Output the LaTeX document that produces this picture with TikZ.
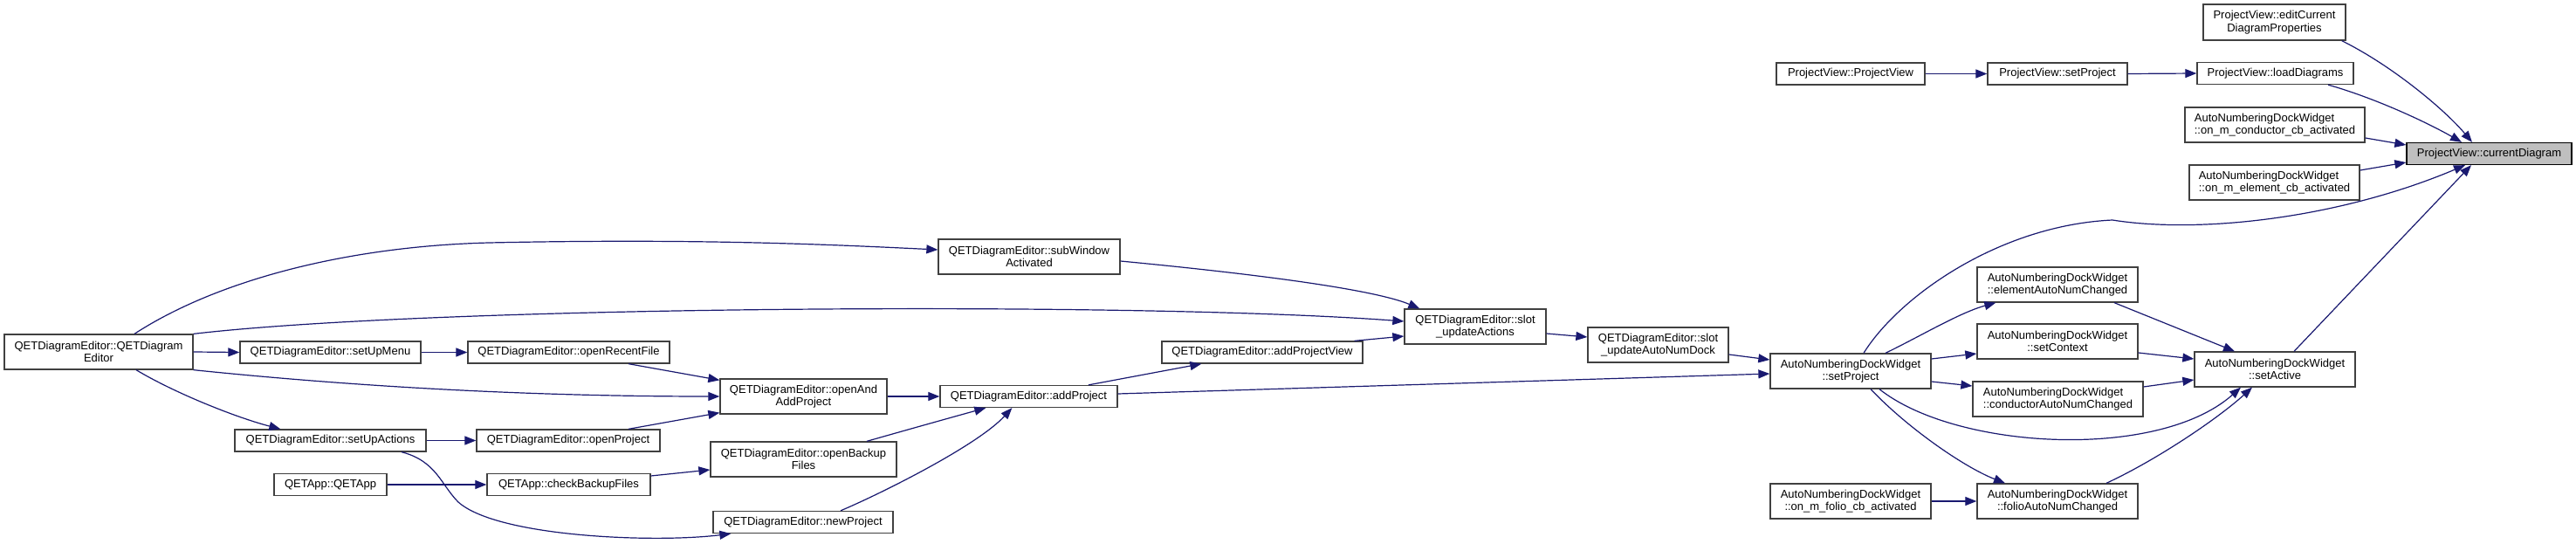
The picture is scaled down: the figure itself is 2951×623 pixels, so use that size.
\documentclass[tikz,border=0pt]{standalone}
\usepackage{fontspec}
\setmainfont{Liberation Sans}
\usetikzlibrary{arrows.meta}
\definecolor{edgeblue}{HTML}{191970}
\definecolor{nodeborder}{HTML}{404040}
\definecolor{hilite}{HTML}{BFBFBF}
\begin{document}
\begin{tikzpicture}[x=1pt,y=-1pt,
  fn/.style={draw=nodeborder, line width=1.3pt, fill=white, inner sep=0pt, align=center,
    font=\fontsize{13}{14.5}\selectfont, minimum height=25pt},
  fn2/.style={fn, minimum height=40pt},
  call/.style={draw=edgeblue, line width=1.2pt, -{Triangle[length=13pt,width=10pt]}}
]
\useasboundingbox[fill=white] (0,0) rectangle (2951,623);

% nodes
\node[fn2, minimum width=216pt] (ctor) at (113,403) {QETDiagramEditor::QETDiagram\\Editor};
\node[fn, minimum width=207pt] (sum) at (378.5,403.5) {QETDiagramEditor::setUpMenu};
\node[fn, minimum width=219pt] (sua) at (378.5,504.5) {QETDiagramEditor::setUpActions};
\node[fn, minimum width=129pt] (qapp) at (378.5,555) {QETApp::QETApp};
\node[fn, minimum width=231pt] (orf) at (651.5,403.5) {QETDiagramEditor::openRecentFile};
\node[fn, minimum width=210pt] (op) at (651,504.5) {QETDiagramEditor::openProject};
\node[fn, minimum width=187pt] (cbf) at (651.5,555) {QETApp::checkBackupFiles};
\node[fn2, minimum width=191pt] (oaa) at (920.5,454) {QETDiagramEditor::openAnd\\AddProject};
\node[fn2, minimum width=213pt] (obf) at (920.5,526) {QETDiagramEditor::openBackup\\Files};
\node[fn, minimum width=206pt] (np) at (920,598) {QETDiagramEditor::newProject};
\node[fn2, minimum width=208pt] (sw) at (1179,294) {QETDiagramEditor::subWindow\\Activated};
\node[fn, minimum width=203pt] (ap) at (1178.5,454) {QETDiagramEditor::addProject};
\node[fn, minimum width=230pt] (apv) at (1446,403.5) {QETDiagramEditor::addProjectView};
\node[fn2, minimum width=162pt] (ua) at (1690,374) {QETDiagramEditor::slot\\\_updateActions};
\node[fn2, minimum width=161pt] (uand) at (1899.5,395) {QETDiagramEditor::slot\\\_updateAutoNumDock};
\node[fn, minimum width=170pt] (pvc) at (2120,84.5) {ProjectView::ProjectView};
\node[fn2, minimum width=184pt] (sp) at (2120,425) {AutoNumberingDockWidget\\::setProject};
\node[fn2, minimum width=184pt] (omf) at (2120,574) {AutoNumberingDockWidget\\::on\_m\_folio\_cb\_activated};
\node[fn, minimum width=160pt] (pvsp) at (2357,84.5) {ProjectView::setProject};
\node[fn2, minimum width=184pt] (ean) at (2357,326) {AutoNumberingDockWidget\\::elementAutoNumChanged};
\node[fn2, minimum width=184pt] (sc) at (2357,391) {AutoNumberingDockWidget\\::setContext};
\node[fn2, minimum width=195pt, align=left] (can) at (2357.5,457) {AutoNumberingDockWidget\\::conductorAutoNumChanged};
\node[fn2, minimum width=184pt] (fan) at (2357,574) {AutoNumberingDockWidget\\::folioAutoNumChanged};
\node[fn2, minimum width=163pt, minimum height=41pt] (ecdp) at (2605.5,25.5) {ProjectView::editCurrent\\DiagramProperties};
\node[fn, minimum width=179pt] (ld) at (2606.5,84) {ProjectView::loadDiagrams};
\node[fn2, minimum width=206pt, align=left] (omc) at (2606,143) {AutoNumberingDockWidget\\::on\_m\_conductor\_cb\_activated};
\node[fn, minimum width=189pt, fill=hilite, draw=black] (cd) at (2851.5,176) {ProjectView::currentDiagram};
\node[fn2, minimum width=195pt, align=left] (ome) at (2605.5,209) {AutoNumberingDockWidget\\::on\_m\_element\_cb\_activated};
\node[fn2, minimum width=184pt] (sa) at (2606,423) {AutoNumberingDockWidget\\::setActive};

% edges into currentDiagram
\draw[call] ([xshift=-5pt]ecdp.south east) .. controls (2740,75) and (2800,125) .. ([xshift=-19.5pt]cd.north);
\draw[call] ([xshift=60.5pt]ld.south) .. controls (2720,112) and (2780,140) .. ([xshift=-31.5pt]cd.north);
\draw[call] ([yshift=-15pt]omc.east) -- ([yshift=10pt]cd.west);
\draw[call] ([yshift=14pt]ome.east) -- ([yshift=-10pt]cd.west);
\draw[call] ([xshift=15pt]sp.north) .. controls (2175,340) and (2290,258) .. (2420,252)
  .. controls (2520,268) and (2680,250) .. ([xshift=-27.5pt]cd.south);
\draw[call] ([xshift=22pt]sa.north) -- ([xshift=-20.5pt]cd.south);

% ProjectView chain
\draw[call] (pvc) -- (pvsp);
\draw[call] (pvsp.east) -- (ld.west);

% setProject fan-out
\draw[call] ([xshift=40pt]sp.north) .. controls (2200,385) and (2245,358) .. ([xshift=22pt]ean.south west);
\draw[call] ([yshift=14pt]sp.east) -- ([yshift=-14pt]sc.west);
\draw[call] ([yshift=-12pt]sp.east) -- ([yshift=15pt]can.west);
\draw[call] ([xshift=33pt]sp.south) .. controls (2240,515) and (2472,528) .. ([xshift=-39pt]sa.south);
\draw[call] ([xshift=23pt]sp.south) .. controls (2185,490) and (2250,535) .. ([xshift=-60pt]fan.north);
\draw[call] (omf) -- (fan);

% into setActive
\draw[call] ([xshift=65pt]ean.south) -- ([xshift=-46pt]sa.north);
\draw[call] ([yshift=-13pt]sc.east) -- ([yshift=12pt]sa.west);
\draw[call] ([yshift=14pt]can.east) -- ([yshift=-12pt]sa.west);
\draw[call] ([xshift=56pt]fan.north) .. controls (2470,527) and (2540,480) .. ([xshift=-26pt]sa.south);

% middle
\draw[call] ([yshift=-11pt]uand.east) -- ([yshift=13pt]sp.west);
\draw[call] ([yshift=3pt]ap.east) -- ([yshift=-3pt]sp.west);
\draw[call] ([yshift=-8pt]ua.east) -- ([yshift=9pt]uand.west);
\draw[call] ([yshift=-5pt]sw.east) .. controls (1420,312) and (1570,330) .. ([xshift=18pt]ua.north west);
\draw[call] (ctor.north east) .. controls (500,350) and (1300,345) .. ([yshift=6pt]ua.west);
\draw[call] ([xshift=-10pt]apv.north east) -- ([yshift=-11pt]ua.west);
\draw[call] ([xshift=68.5pt]ap.north) -- ([xshift=46pt]apv.south west);

% left
\draw[call] ([xshift=41pt]ctor.north) .. controls (250,320) and (400,282) .. (560,278)
  .. controls (800,273) and (950,280) .. ([yshift=8pt]sw.west);
\draw[call] (ctor.east) -- (sum.west);
\draw[call] (ctor.south east) .. controls (400,442) and (600,454) .. (oaa.west);
\draw[call] ([xshift=43pt]ctor.south) .. controls (200,450) and (270,478) .. ([xshift=53pt]sua.north west);
\draw[call] (sum.east) -- (orf.west);
\draw[call] ([xshift=68.5pt]orf.south) -- ([yshift=-2pt]oaa.north west);
\draw[call] ([xshift=69pt]op.north) -- ([yshift=2pt]oaa.south west);
\draw[call] (sua.east) -- (op.west);
\draw[call] ([xshift=81.5pt]sua.south) .. controls (500,528) and (505,555) .. (525,575)
  .. controls (570,615) and (750,622) .. ([xshift=21pt]np.south west);
\draw[call] (qapp) -- (cbf);
\draw[call] ([yshift=10pt]cbf.east) -- ([yshift=-12pt]obf.west);
\draw[call] (oaa.east) -- (ap.west);
\draw[call] ([xshift=72.5pt]obf.north) .. controls (1040,492) and (1090,478) .. ([xshift=53pt]ap.south west);
\draw[call] ([xshift=43pt]np.north) .. controls (1010,565) and (1120,510) .. ([xshift=83pt]ap.south west);
\end{tikzpicture}
\end{document}
